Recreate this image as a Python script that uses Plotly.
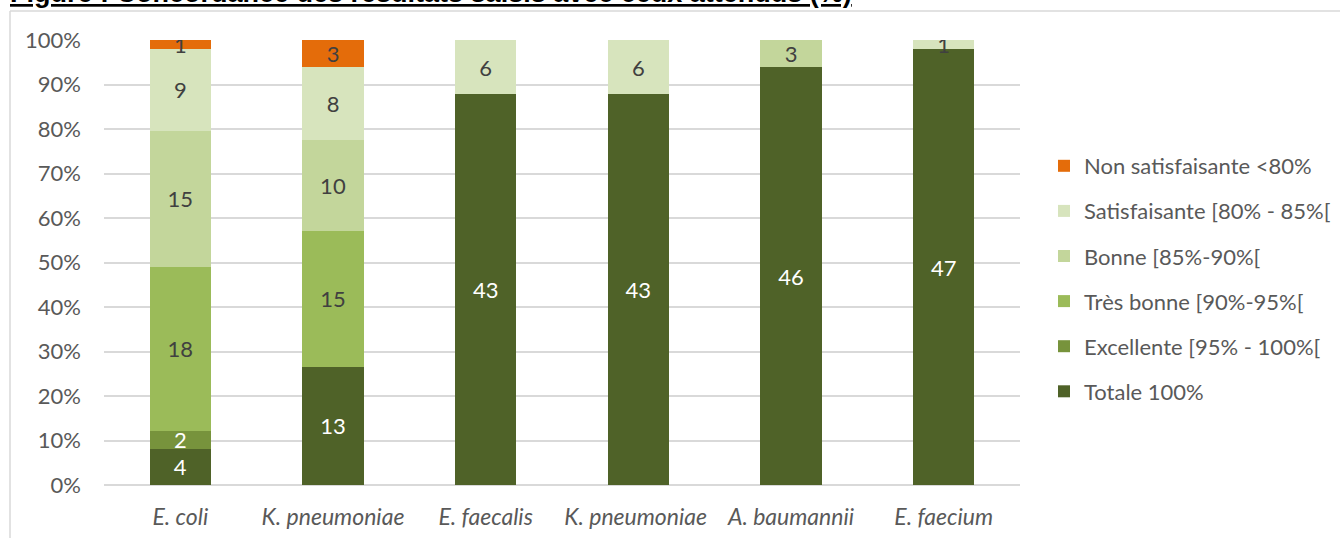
import plotly.graph_objects as go

categories = ["E. coli", "K. pneumoniae", "E. faecalis", "K. pneumoniae ", "A. baumannii", "E. faecium"]

totale = [4, 13, 43, 43, 46, 47]
excellente = [2, 0, 0, 0, 0, 0]
tres_bonne = [18, 15, 0, 0, 0, 0]
bonne = [15, 10, 0, 0, 3, 0]
satisfaisante = [9, 8, 6, 6, 0, 1]
non_satisfaisante = [1, 3, 0, 0, 0, 0]

series = [
    ("Totale 100%", totale, "#4F6228", "white"),
    ("Excellente [95% - 100%[", excellente, "#77933C", "white"),
    ("Très bonne [90%-95%[", tres_bonne, "#9BBB59", "#404040"),
    ("Bonne [85%-90%[", bonne, "#C3D69B", "#404040"),
    ("Satisfaisante [80% - 85%[", satisfaisante, "#D7E4BD", "#404040"),
    ("Non satisfaisante <80%", non_satisfaisante, "#E46C0A", "#404040"),
]

FONT = "Lato"
FS = 22
W, H = 1340, 538
L, R, T, B = 104, 320, 40, 53
PW, PH = W - L - R, H - T - B

fig = go.Figure()
n = len(series)
for i, (name, vals, color, tcolor) in enumerate(series):
    fig.add_trace(go.Bar(
        x=categories, y=vals, name=name,
        marker=dict(color=color, line=dict(width=0)),
        text=[str(v) if v else "" for v in vals],
        textposition="inside", insidetextanchor="middle", textangle=0,
        textfont=dict(family=FONT, size=FS, color=tcolor),
        legendgroup=f"g{i}", legendrank=n - i,
        hoverinfo="skip",
    ))

fig.update_layout(
    width=W, height=H,
    margin=dict(l=L, r=R, t=T, b=B, pad=0, autoexpand=False),
    barmode="stack", barnorm="percent", bargap=0.6,
    paper_bgcolor="white", plot_bgcolor="white",
    font=dict(family=FONT, size=FS, color="#595959"),
    uniformtext=dict(minsize=FS, mode="show"),
    showlegend=True,
    legend=dict(
        x=(1044 - L) / PW, xanchor="left",
        y=(H - B - 145) / PH, yanchor="top",
        traceorder="grouped", tracegroupgap=13.5,
        font=dict(family=FONT, size=FS, color="#595959"),
        itemwidth=30, bgcolor="rgba(0,0,0,0)",
    ),
    xaxis=dict(
        type="category", showgrid=False, showline=False, ticks="",
        ticklabelstandoff=16, automargin=False,
        tickfont=dict(family=FONT, size=23, color="#595959", style="italic"),
    ),
    yaxis=dict(
        range=[0, 100], dtick=10, ticksuffix="%",
        showgrid=True, gridcolor="#D9D9D9", gridwidth=1.5,
        zeroline=True, zerolinecolor="#D9D9D9", zerolinewidth=1.5,
        showline=False, ticks="", ticklabelstandoff=22, automargin=False,
        tickfont=dict(family=FONT, size=FS, color="#595959"),
    ),
)

# chart-area frame (left and top borders)
fx = (10 - L) / PW
fy = (H - B - 11) / PH
fig.add_shape(type="line", xref="paper", yref="paper", x0=fx, x1=fx, y0=fy, y1=-1,
              line=dict(color="#D9D9D9", width=1.5))
fig.add_shape(type="line", xref="paper", yref="paper", x0=fx, x1=2, y0=fy, y1=fy,
              line=dict(color="#D9D9D9", width=1.5))

fig.add_annotation(
    text="<b><u>Figure : Concordance des résultats saisis avec ceux attendus (%)</u></b>",
    xref="paper", yref="paper", x=(8 - L) / PW, xanchor="left",
    y=(H - B + 7) / PH, yanchor="middle", showarrow=False,
    font=dict(family="Liberation Sans", size=27, color="black"),
)

fig.write_html("out.html")
